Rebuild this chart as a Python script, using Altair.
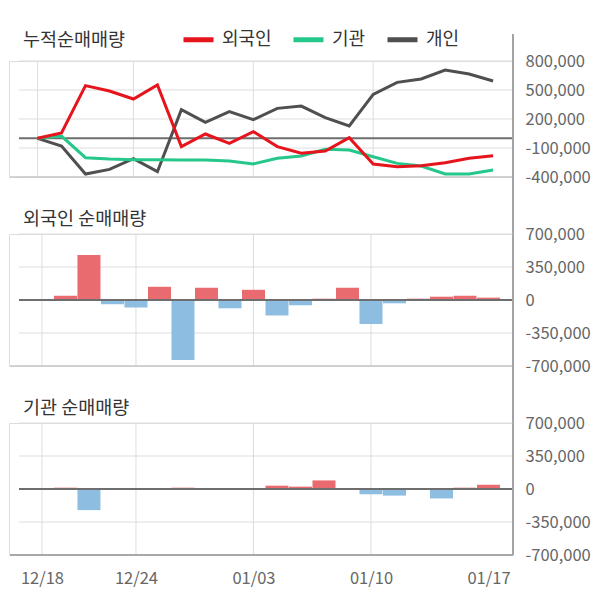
import altair as alt
import pandas as pd

# ---------------- data ----------------
dates = ["12/18", "12/19", "12/20", "12/21", "12/24", "12/26", "12/27", "12/28", "01/02", "01/03",
         "01/04", "01/07", "01/08", "01/09", "01/10", "01/11", "01/14", "01/15", "01/16", "01/17"]
label_dates = ["12/18", "12/24", "01/03", "01/10", "01/17"]
grid_dates = ["12/18", "12/24", "01/03", "01/10"]

series_names = ["외국인", "기관", "개인"]
panel_titles = ["누적순매매량", "외국인 순매매량", "기관 순매매량"]

cum_foreign = [0, 55000, 545000, 490000, 407000, 552000, -86000, 45000, -52000, 69000,
               -86000, -155000, -131000, 7000, -265000, -293000, -283000, -252000, -207000, -179000]
cum_inst = [0, 24000, -200000, -214000, -221000, -221000, -224000, -224000, -235000, -265000,
            -207000, -183000, -114000, -121000, -190000, -259000, -286000, -369000, -369000, -328000]
cum_indiv = [0, -79000, -369000, -321000, -210000, -345000, 297000, 166000, 276000, 193000,
             310000, 334000, 214000, 128000, 455000, 579000, 614000, 707000, 665000, 593000]

daily_foreign = [0, 45000, 476000, -45000, -80000, 140000, -637000, 130000, -88000, 108000,
                 -164000, -56000, 14000, 130000, -255000, -35000, 14000, 35000, 45000, 25000]
daily_inst = [0, 14000, -224000, 0, 0, 0, 14000, 0, 0, 0,
              35000, 25000, 91000, 0, -56000, -70000, 0, -100000, 14000, 45000]

top_ticks = [800000, 500000, 200000, -100000, -400000]
bar_ticks = [700000, 350000, 0, -350000, -700000]

# ---------------- styling ----------------
FONT = "Noto Sans CJK KR"
RED, GREEN, DARK = "#e6141d", "#25c78a", "#4f4f4f"
BAR_RED, BAR_BLUE = "#e96b6f", "#8dbde1"
GRID, ZERO, BG = "#dddddd", "#6e6e6e", "#f4f4f4"
AXIS_LINE = "#a3a3a3"
W = 504
TOP_H, BAR_H, GAP = 116, 132, 57
X_DOMAIN = [-1.19, 19.83]
LABEL_SIZE = 16.5

idx = list(range(len(dates)))
label_idx = [dates.index(d) for d in label_dates]
grid_idx = [dates.index(d) for d in grid_dates]
date_expr = "[" + ",".join("'%s'" % d for d in dates) + "][datum.value]"
num_expr = "replace(format(datum.value, ',d'), '\u2212', '-')"


def make_y_axis(ticks):
    return alt.Axis(orient="right", values=ticks, domain=False, ticks=False, tickSize=0,
                    grid=False, labelPadding=12, labelFontSize=LABEL_SIZE, labelColor="#666666",
                    labelFont=FONT, labelOverlap=False, title=None, labelExpr=num_expr)


x_axis = alt.Axis(values=label_idx, labelExpr=date_expr, orient="bottom", domain=False,
                  ticks=False, tickSize=0, grid=False, labelPadding=15, labelFontSize=LABEL_SIZE,
                  labelColor="#666666", labelFont=FONT, labelOverlap=False, title=None)


def xenc(show):
    return alt.X("i:Q", scale=alt.Scale(domain=X_DOMAIN, nice=False, zero=False),
                 axis=x_axis if show else None)


def yenc(domain, ticks):
    return alt.Y("v:Q", scale=alt.Scale(domain=domain, nice=False, zero=False),
                 axis=make_y_axis(ticks))


def decor(title, h, domain, ticks, show_x, line_top, line_bottom, bottom_color, bottom_w, title_y):
    one = pd.DataFrame({"t": [title]})
    grid_y = alt.Chart(pd.DataFrame({"v": ticks})).mark_rule(color=GRID, strokeWidth=1).encode(
        x=alt.value(10), x2=alt.value(W), y=yenc(domain, ticks))
    grid_x = alt.Chart(pd.DataFrame({"i": grid_idx})).mark_rule(color=GRID, strokeWidth=1).encode(
        x=xenc(show_x), y=alt.value(0), y2=alt.value(h))
    bottom = alt.Chart(one).mark_rule(color=bottom_color, strokeWidth=bottom_w).encode(
        x=alt.value(1), x2=alt.value(W), y=alt.value(h))
    ttl = alt.Chart(one).mark_text(align="left", baseline="middle", font=FONT, fontSize=18.5,
                                   color="#333333").encode(
        x=alt.value(14), y=alt.value(title_y), text="t:N")
    zero = alt.Chart(pd.DataFrame({"v": [0]})).mark_rule(color=ZERO, strokeWidth=2).encode(
        x=alt.value(10), x2=alt.value(W), y=yenc(domain, ticks))
    vline = alt.Chart(one).mark_rule(color=AXIS_LINE, strokeWidth=2).encode(
        x=alt.value(W), y=alt.value(line_top), y2=alt.value(line_bottom))
    return [grid_y, grid_x, bottom, ttl], zero, vline


# ---------------- top panel ----------------
top_dom = [-400000, 800000]
line_df = pd.DataFrame({
    "i": idx * 3,
    "v": cum_indiv + cum_inst + cum_foreign,
    "s": [series_names[2]] * len(idx) + [series_names[1]] * len(idx) + [series_names[0]] * len(idx),
})
layers, zero, vline = decor(panel_titles[0], TOP_H, top_dom, top_ticks, False,
                            -27, TOP_H + GAP, "#c8c8c8", 1.5, -21)
lines = alt.Chart(line_df).mark_line(strokeWidth=3).encode(
    x=xenc(False),
    y=yenc(top_dom, top_ticks),
    color=alt.Color("s:N", scale=alt.Scale(domain=series_names, range=[RED, GREEN, DARK]),
                    legend=alt.Legend(orient="none", legendX=172, legendY=-39, direction="horizontal",
                                      symbolType="stroke", symbolSize=900, symbolStrokeWidth=5,
                                      labelFontSize=18, labelFont=FONT, labelColor="#333333",
                                      columnPadding=11, labelOffset=6, padding=0, title=None)),
)
anchor = alt.Chart(pd.DataFrame({"t": [""]})).mark_rule(color="#ffffff", strokeWidth=1).encode(
    x=alt.value(300), x2=alt.value(302), y=alt.value(-51.5))
top = alt.layer(*layers, zero, lines, vline, anchor).properties(width=W, height=TOP_H)


# ---------------- bar panels ----------------
def bar_panel(title, daily, last):
    dom = [-700000, 700000]
    df = pd.DataFrame({"i": idx, "v": daily})
    lb = BAR_H if last else BAR_H + GAP
    layers, zero, vline = decor(title, BAR_H, dom, bar_ticks, last, 0, lb,
                                "#a8a8a8" if last else "#c8c8c8", 2 if last else 1.5, -15)
    bars = alt.Chart(df).mark_bar(size=23).encode(
        x=xenc(last),
        y=yenc(dom, bar_ticks),
        y2=alt.datum(0),
        color=alt.condition("datum.v > 0", alt.value(BAR_RED), alt.value(BAR_BLUE)),
    )
    return alt.layer(*layers, bars, zero, vline).properties(width=W, height=BAR_H)


mid = bar_panel(panel_titles[1], daily_foreign, False)
bot = bar_panel(panel_titles[2], daily_inst, True)

chart = alt.vconcat(top, mid, bot, spacing=GAP, bounds="flush").properties(
    padding={"left": 0, "top": 0, "right": 0, "bottom": 2}
).configure_view(stroke=None, fill=BG).configure(font=FONT, background="#ffffff")

chart.save("out.html", embed_options={"renderer": "svg", "actions": False})
